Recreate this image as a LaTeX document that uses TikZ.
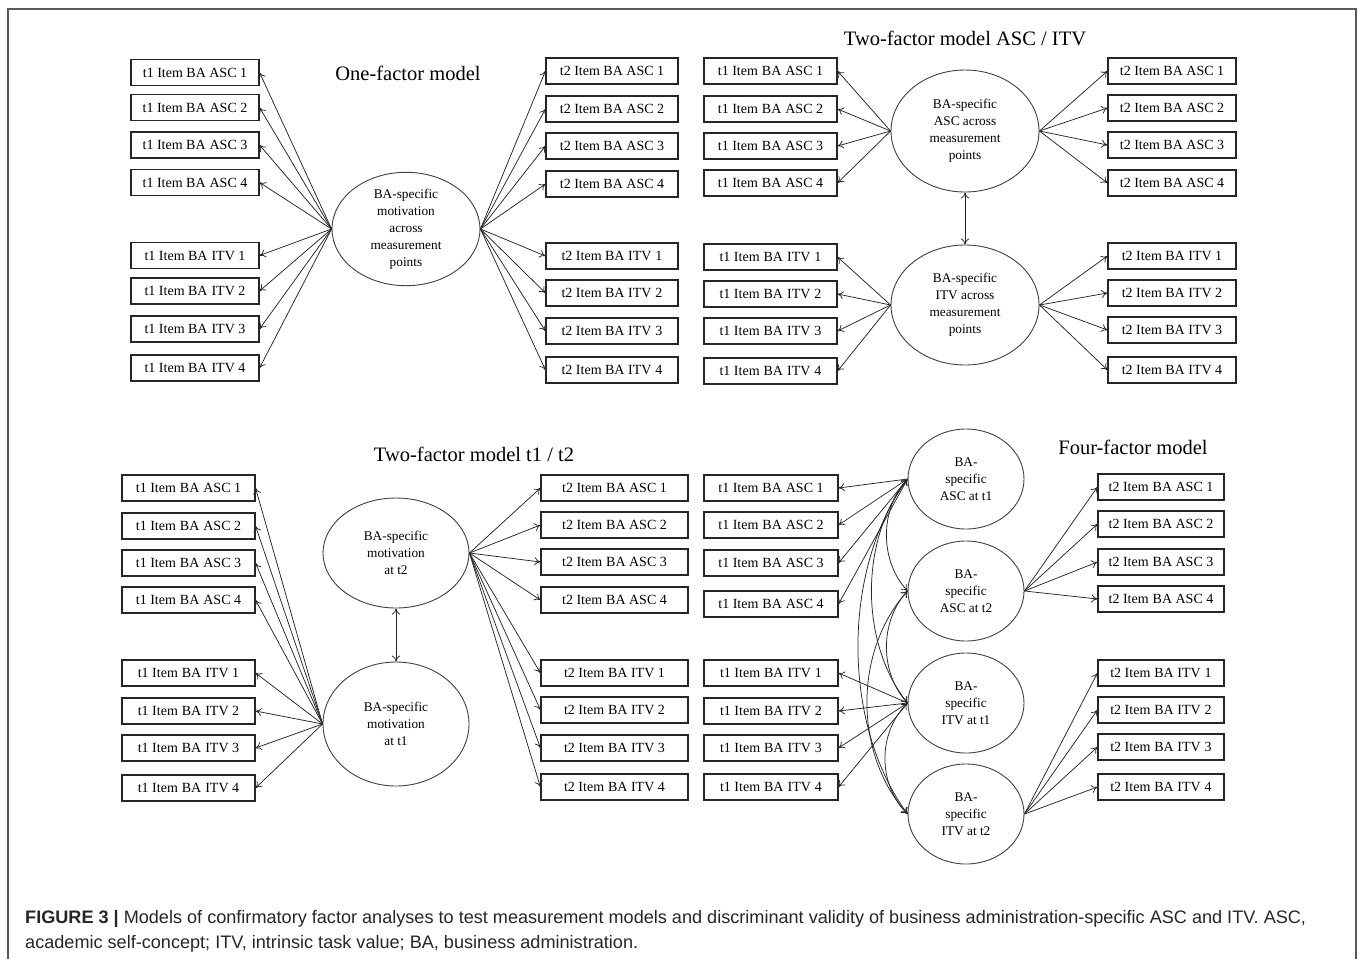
\documentclass[tikz,border=0pt]{standalone}
\usepackage{fontspec}
\setmainfont{Liberation Serif}
\newfontfamily\capfont{Liberation Sans}
\usetikzlibrary{arrows.meta,shapes.geometric}

\tikzset{
  item/.style={draw=black!85, line width=1.1pt, minimum height=26pt, inner sep=0pt,
    font=\fontsize{14}{16}\selectfont},
  latent/.style={ellipse, draw=black!75, line width=0.9pt, inner sep=0pt, align=center,
    font=\fontsize{13.3}{17}\selectfont},
  load/.style={draw=black!85, line width=0.75pt, -{To[length=6pt,width=8pt]}},
  cov/.style={draw=black!85, line width=0.75pt, {To[length=6pt,width=8pt]}-{To[length=6pt,width=8pt]}},
  heading/.style={font=\fontsize{20.5}{23}\selectfont},
  frame/.style={draw=black!65, line width=1.3pt},
}
\newcommand{\gp}{\hspace{4pt}}

\begin{document}
\begin{tikzpicture}[x=1pt,y=-1pt]
\useasboundingbox (0,0) rectangle (1358,959);

% outer frame
\draw[frame] (8,959) -- (8,9) -- (1356,9) -- (1356,959);

% ---------------- One-factor model ----------------
\node[heading] (h1) at (408,73) {One-factor model};
\node[latent, minimum width=148pt, minimum height=108pt] (f1) at (406,229)
  {BA-specific\\motivation\\across\\measurement\\points};
\foreach \n/\y/\t in {a1/72.5/{t1 Item BA ASC 1}, a2/107.5/{t1 Item BA\gp ASC 2},
    a3/145/{t1 Item BA\gp ASC 3}, a4/182.5/{t1 Item BA\gp ASC 4},
    i1/255.5/{t1 Item BA\gp ITV 1}, i2/291/{t1 Item BA\gp ITV 2},
    i3/329/{t1 Item BA\gp ITV 3}, i4/368/{t1 Item BA\gp ITV 4}}
  {\node[item, minimum width=128pt] (p1l\n) at (195,\y) {\t};
   \draw[load] (f1.west) -- (p1l\n.east);}
\foreach \n/\y/\t in {a1/71/{t2 Item BA ASC 1}, a2/109/{t2 Item BA ASC 2},
    a3/146/{t2 Item BA ASC 3}, a4/184/{t2 Item BA ASC 4},
    i1/256/{t2 Item BA ITV\gp 1}, i2/293/{t2 Item BA ITV\gp 2},
    i3/331/{t2 Item BA ITV\gp 3}, i4/370/{t2 Item BA ITV\gp 4}}
  {\node[item, minimum width=132pt] (p1r\n) at (612,\y) {\t};
   \draw[load] (f1.east) -- (p1r\n.west);}

% ---------------- Two-factor model ASC / ITV ----------------
\node[heading] (h2) at (965,38) {Two-factor model ASC / ITV};
\node[latent, minimum width=148pt, minimum height=122pt] (g1) at (965,131)
  {BA-specific\\ASC across\\measurement\\points};
\node[latent, minimum width=148pt, minimum height=120pt] (g2) at (965,305)
  {BA-specific\\ITV across\\measurement\\points};
\draw[cov] (g1.south) -- (g2.north);
\foreach \n/\y/\t/\f in {a1/71/{t1 Item\gp BA\gp ASC 1}/g1, a2/109/{t1 Item\gp BA\gp ASC 2}/g1,
    a3/146/{t1 Item\gp BA\gp ASC 3}/g1, a4/183/{t1 Item\gp BA\gp ASC 4}/g1,
    i1/257/{t1 Item\gp BA\gp ITV\gp 1}/g2, i2/294/{t1 Item\gp BA\gp ITV\gp 2}/g2,
    i3/331/{t1 Item\gp BA\gp ITV\gp 3}/g2, i4/371/{t1 Item\gp BA\gp ITV\gp 4}/g2}
  {\node[item, minimum width=133pt] (p2l\n) at (770.5,\y) {\t};
   \draw[load] (\f.west) -- (p2l\n.east);}
\foreach \n/\y/\t/\f in {a1/71/{t2 Item BA ASC 1}/g1, a2/108/{t2 Item BA ASC 2}/g1,
    a3/145/{t2 Item BA ASC 3}/g1, a4/183/{t2 Item BA ASC 4}/g1,
    i1/256/{t2 Item BA ITV 1}/g2, i2/293/{t2 Item BA ITV 2}/g2,
    i3/330/{t2 Item BA ITV 3}/g2, i4/370/{t2 Item BA ITV 4}/g2}
  {\node[item, minimum width=128pt] (p2r\n) at (1172,\y) {\t};
   \draw[load] (\f.east) -- (p2r\n.west);}

% ---------------- Two-factor model t1 / t2 ----------------
\node[heading] (h3) at (474,454) {Two-factor model t1 / t2};
\node[latent, minimum width=146pt, minimum height=110pt] (m2) at (396,553)
  {BA-specific\\motivation\\at t2};
\node[latent, minimum width=146pt, minimum height=124pt] (m1) at (396,724)
  {BA-specific\\motivation\\at t1};
\draw[cov] (m2.south) -- (m1.north);
\foreach \n/\y/\t in {a1/488/{t1 Item\gp BA\gp ASC 1}, a2/526/{t1 Item\gp BA\gp ASC 2},
    a3/563/{t1 Item\gp BA\gp ASC 3}, a4/600/{t1 Item\gp BA\gp ASC 4},
    i1/673/{t1 Item\gp BA\gp ITV 1}, i2/711/{t1 Item\gp BA\gp ITV 2},
    i3/748/{t1 Item\gp BA\gp ITV 3}, i4/788/{t1 Item\gp BA\gp ITV 4}}
  {\node[item, minimum width=133pt] (p3l\n) at (188.5,\y) {\t};
   \draw[load] (m1.west) -- (p3l\n.east);}
\foreach \n/\y/\t in {a1/488/{t2 Item\gp BA ASC 1}, a2/525/{t2 Item\gp BA ASC 2},
    a3/562/{t2 Item\gp BA ASC 3}, a4/600/{t2 Item\gp BA ASC 4},
    i1/673/{t2 Item\gp BA ITV 1}, i2/710/{t2 Item\gp BA ITV 2},
    i3/748/{t2 Item\gp BA ITV 3}, i4/787/{t2 Item\gp BA ITV 4}}
  {\node[item, minimum width=147pt] (p3r\n) at (614.5,\y) {\t};
   \draw[load] (m2.east) -- (p3r\n.west);}

% ---------------- Four-factor model ----------------
\node[heading] (h4) at (1133,447) {Four-factor model};
\node[latent, minimum width=116pt, minimum height=100pt] (q1) at (966,479) {BA-\\specific\\ASC at t1};
\node[latent, minimum width=116pt, minimum height=100pt] (q2) at (966,591) {BA-\\specific\\ASC at t2};
\node[latent, minimum width=116pt, minimum height=100pt] (q3) at (966,703) {BA-\\specific\\ITV at t1};
\node[latent, minimum width=116pt, minimum height=100pt] (q4) at (966,814) {BA-\\specific\\ITV at t2};
\foreach \n/\y/\t/\f in {a1/488/{t1 Item\gp BA\gp ASC 1}/q1, a2/525/{t1 Item\gp BA\gp ASC 2}/q1,
    a3/563/{t1 Item\gp BA\gp ASC 3}/q1, a4/604/{t1 Item\gp BA\gp ASC 4}/q1,
    i1/673/{t1 Item\gp BA\gp ITV\gp 1}/q3, i2/711/{t1 Item\gp BA\gp ITV\gp 2}/q3,
    i3/748/{t1 Item\gp BA\gp ITV\gp 3}/q3, i4/787/{t1 Item\gp BA\gp ITV\gp 4}/q3}
  {\node[item, minimum width=134pt] (p4l\n) at (771,\y) {\t};
   \draw[load] (\f.west) -- (p4l\n.east);}
\foreach \n/\y/\t/\f in {a1/487/{t2 Item\gp BA ASC 1}/q2, a2/524/{t2 Item\gp BA ASC 2}/q2,
    a3/562/{t2 Item\gp BA ASC 3}/q2, a4/599/{t2 Item\gp BA ASC 4}/q2,
    i1/673/{t2 Item\gp BA ITV\gp 1}/q4, i2/710/{t2 Item\gp BA ITV\gp 2}/q4,
    i3/747/{t2 Item\gp BA ITV\gp 3}/q4, i4/787/{t2 Item\gp BA ITV\gp 4}/q4}
  {\node[item, minimum width=126pt] (p4r\n) at (1161,\y) {\t};
   \draw[load] (\f.east) -- (p4r\n.west);}
% factor covariances
\draw[cov] (q1.west) .. controls +(-28,30) and +(-28,-30) .. (q2.west);
\draw[cov] (q2.west) .. controls +(-28,30) and +(-28,-30) .. (q3.west);
\draw[cov] (q3.west) .. controls +(-30,30) and +(-30,-30) .. (q4.west);
\draw[cov] (q1.west) .. controls +(-48,60) and +(-48,-60) .. (q3.west);
\draw[cov] (q2.west) .. controls +(-54,60) and +(-54,-60) .. (q4.west);
\draw[cov] (q1.west) .. controls +(-66,90) and +(-66,-90) .. (q4.west);

% ---------------- caption ----------------
\node[anchor=base west, inner sep=0pt, text=black!85, font=\capfont\fontsize{18.1}{25}\selectfont,
  align=left] (cap) at (25,948)
  {\textbf{FIGURE 3 |} Models of confirmatory factor analyses to test measurement models and discriminant validity of business administration-specific ASC and ITV. ASC,\\
   academic self-concept; ITV, intrinsic task value; BA, business administration.};
\end{tikzpicture}
\end{document}
